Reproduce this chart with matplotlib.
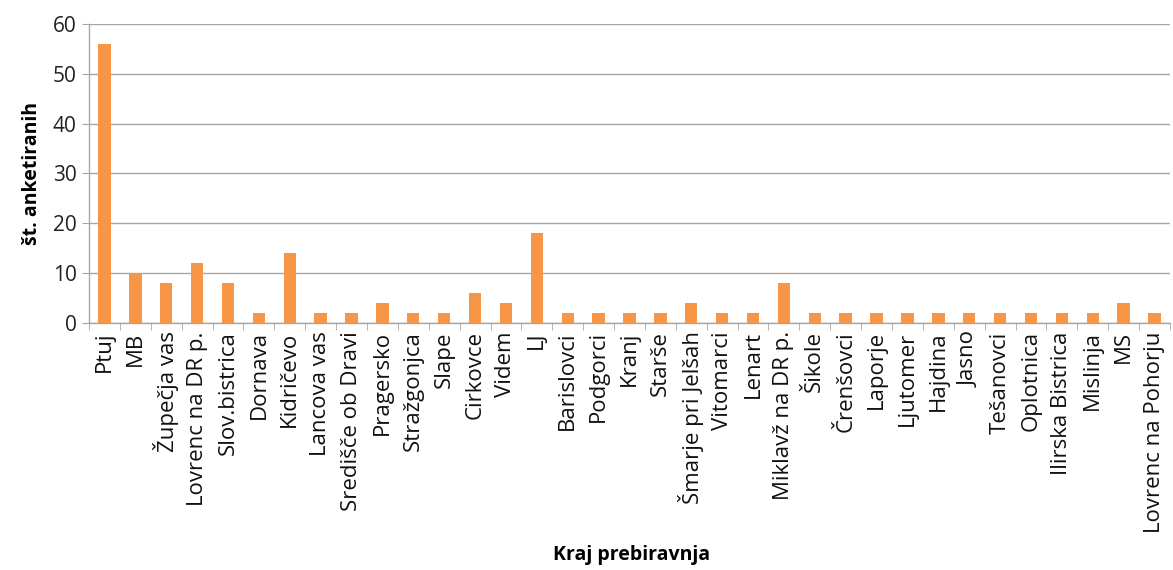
import numpy as np
import matplotlib
matplotlib.use("Agg")
import matplotlib.pyplot as plt

kraji = ["Ptuj", "MB", "Župečja vas", "Lovrenc na DR p.", "Slov.bistrica",
         "Dornava", "Kidričevo", "Lancova vas", "Središče ob Dravi",
         "Pragersko", "Stražgonjca", "Slape", "Cirkovce", "Videm", "LJ",
         "Barislovci", "Podgorci", "Kranj", "Starše", "Šmarje pri Jelšah",
         "Vitomarci", "Lenart", "Miklavž na DR p.", "Šikole", "Črenšovci",
         "Laporje", "Ljutomer", "Hajdina", "Jasno", "Tešanovci", "Oplotnica",
         "Ilirska Bistrica", "Mislinja", "MS", "Lovrenc na Pohorju"]
stevilo = [56, 10, 8, 12, 8, 2, 14, 2, 2, 4, 2, 2, 6, 4, 18, 2, 2, 2, 2, 4,
           2, 2, 8, 2, 2, 2, 2, 2, 2, 2, 2, 2, 2, 4, 2]
y_ticks = [0, 10, 20, 30, 40, 50, 60]

plt.rcParams["font.family"] = ["Open Sans", "DejaVu Sans"]

fig = plt.figure(figsize=(11.73, 5.70), dpi=100)
ax = fig.add_axes([0.0759, 0.4333, 0.9215, 0.5247])

x = np.arange(len(kraji))
ax.bar(x, stevilo, width=0.4, color="#F79646", zorder=3)

ax.set_xlim(-0.5, len(kraji) - 0.5)
ax.set_ylim(0, 60)
ax.set_yticks(y_ticks)
ax.set_yticklabels([str(v) for v in y_ticks], fontsize=15, color="#222222")
ax.set_xticks(x)
ax.set_xticklabels(kraji, rotation=90, fontsize=16, color="#111111")
ax.set_xticks(np.arange(len(kraji) + 1) - 0.5, minor=True)
ax.tick_params(axis="x", which="major", length=0, pad=6)
ax.tick_params(axis="x", which="minor", length=5, color="#a6a6a6")
ax.tick_params(axis="y", length=5, color="#a6a6a6", pad=4)

ax.grid(axis="y", color="#a6a6a6", linewidth=1, zorder=0)
for s in ["top", "right"]:
    ax.spines[s].set_visible(False)
for s in ["left", "bottom"]:
    ax.spines[s].set_color("#a6a6a6")
    ax.spines[s].set_linewidth(1)

ax.set_ylabel("št. anketiranih", fontsize=14, fontweight="bold", labelpad=8)
fig.text(0.538, 0.027, "Kraj prebiravnja", ha="center", va="center",
         fontsize=14, fontweight="bold")

fig.savefig("out.png", dpi=100)
